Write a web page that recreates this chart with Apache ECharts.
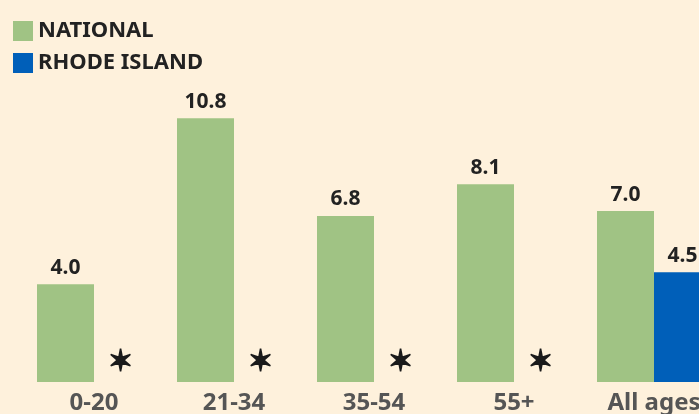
<!DOCTYPE html>
<html>
<head>
<meta charset="utf-8">
<script src="https://cdn.jsdelivr.net/npm/echarts@6/dist/echarts.min.js"></script>
<style>
  html, body { margin: 0; padding: 0; background: #fef1dc; }
  #chart { width: 699px; height: 414px; }
</style>
</head>
<body>
<div id="chart"></div>
<script>
const categories = ['0-20', '21-34', '35-54', '55+', 'All ages']
const nationalValues = [4.0, 10.8, 6.8, 8.1, 7.0]
// null = no data for Rhode Island (shown as a star)
const rhodeIslandValues = [null, null, null, null, 4.5]

const green = '#a0c384'
const blue = '#005fb9'
const font = 'Noto Sans'

const riData = rhodeIslandValues.map(v => v === null
  ? { value: 0, label: { show: true, formatter: '\u2736', fontFamily: 'DejaVu Sans', fontSize: 30, fontWeight: 'bold', color: '#1a1a1a', textBorderColor: '#1a1a1a', textBorderWidth: 1.6, distance: 4, offset: [-2, 0] } }
  : v)

const chart = echarts.init(document.getElementById('chart'))
chart.setOption({
  backgroundColor: '#fef1dc',
  animation: false,
  legend: {
    orient: 'vertical',
    left: 8,
    top: 15,
    itemWidth: 20,
    itemHeight: 20,
    itemGap: 10,
    icon: 'rect',
    textStyle: { fontFamily: font, fontWeight: 'bold', fontSize: 22, color: '#222' },
    data: ['NATIONAL', 'RHODE ISLAND']
  },
  grid: { left: 24, width: 700, top: 89, bottom: 32, outerBoundsMode: 'none' },
  xAxis: {
    type: 'category',
    data: categories,
    axisLine: { show: false },
    axisTick: { show: false },
    axisLabel: { margin: 9, fontFamily: font, fontWeight: 'bold', fontSize: 24, color: '#555' }
  },
  yAxis: { type: 'value', min: 0, max: 12, show: false },
  series: [
    {
      name: 'NATIONAL',
      type: 'bar',
      barWidth: 57,
      barGap: '0%',
      itemStyle: { color: green },
      label: { show: true, position: 'top', distance: 6, fontFamily: font, fontWeight: 'bold', fontSize: 21, color: '#222', formatter: p => p.value.toFixed(1) },
      data: nationalValues
    },
    {
      name: 'RHODE ISLAND',
      type: 'bar',
      barWidth: 57,
      itemStyle: { color: blue },
      label: { show: true, position: 'top', distance: 6, fontFamily: font, fontWeight: 'bold', fontSize: 21, color: '#222', formatter: p => p.value.toFixed(1) },
      data: riData
    }
  ]
})
</script>
</body>
</html>
